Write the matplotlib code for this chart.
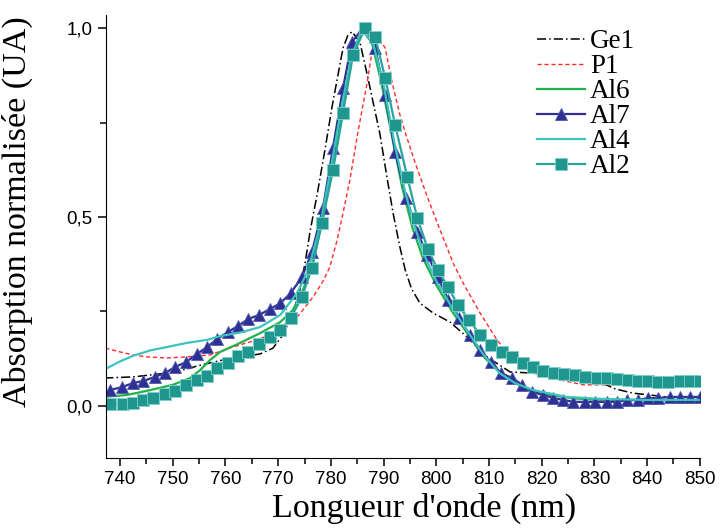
import numpy as np
import matplotlib.pyplot as plt
from matplotlib.ticker import MultipleLocator, FuncFormatter

# Ge1 (dash-dot black)
ge1_x = [737.0, 742.5, 748.9, 752.7, 755.2, 759.6, 764.1, 766.6, 769.0, 770.9, 772.8, 774.0, 775.1, 776.1,
         777.4, 778.9, 780.2, 781.2, 782.3, 783.2, 784.0, 785.5, 786.9, 788.0, 789.3, 790.7, 791.8, 793.1,
         794.1, 795.3, 796.9, 799.4, 802.6, 805.8, 809.6, 814.0, 818.4, 824.8, 828.0, 831.1, 834.0, 837.3,
         843.8, 850.0]
ge1_y = [0.074, 0.077, 0.087, 0.098, 0.108, 0.122, 0.132, 0.138, 0.153, 0.188, 0.246, 0.300, 0.378, 0.466,
         0.560, 0.680, 0.790, 0.865, 0.947, 0.980, 0.990, 0.963, 0.876, 0.804, 0.720, 0.600, 0.510, 0.420,
         0.360, 0.310, 0.272, 0.246, 0.222, 0.183, 0.130, 0.090, 0.087, 0.082, 0.075, 0.063, 0.045, 0.034,
         0.024, 0.024]

# P1 (dashed red)
p1_x = [737.2, 740.0, 742.5, 745.0, 748.9, 752.7, 757.0, 761.4, 766.0, 769.8, 773.6, 776.6, 778.5, 779.8,
        781.2, 782.3, 783.6, 785.2, 786.9, 788.0, 789.0, 790.3, 791.6, 793.1, 794.3, 796.0, 798.3, 800.7,
        803.2, 805.1, 808.3, 811.5, 814.6, 818.4, 823.5, 827.9, 834.3, 840.6, 850.0]
p1_y = [0.153, 0.143, 0.135, 0.130, 0.127, 0.130, 0.135, 0.156, 0.175, 0.196, 0.235, 0.288, 0.330, 0.368,
        0.440, 0.510, 0.598, 0.730, 0.857, 0.955, 0.976, 0.947, 0.857, 0.770, 0.715, 0.643, 0.553, 0.466,
        0.378, 0.325, 0.246, 0.175, 0.122, 0.087, 0.069, 0.056, 0.056, 0.050, 0.056]

# Al6 (green line)
al6_x = [736.8, 741.3, 745.7, 750.0, 753.3, 755.2, 757.1, 759.0, 762.8, 766.6, 770.4, 772.8, 774.7, 776.6,
         778.5, 780.4, 782.3, 784.2, 786.0, 787.8, 789.5, 791.5, 793.5, 795.5, 797.5, 800.0, 803.0, 806.0,
         809.0, 812.0, 815.0, 818.0, 822.0, 826.0, 830.0, 840.0, 850.0]
al6_y = [0.024, 0.029, 0.042, 0.056, 0.074, 0.095, 0.122, 0.143, 0.167, 0.193, 0.222, 0.254, 0.307, 0.378,
         0.500, 0.650, 0.800, 0.940, 0.995, 0.960, 0.860, 0.720, 0.580, 0.470, 0.390, 0.320, 0.250, 0.190,
         0.130, 0.090, 0.060, 0.040, 0.028, 0.020, 0.017, 0.015, 0.016]

# Al7 (triangles, navy)
al7_x = [738.0, 740.4, 742.5, 744.4, 746.6, 748.5, 750.4, 752.5, 754.6, 756.5, 758.4, 760.5, 762.4, 764.3,
         766.4, 768.5, 770.4, 772.4, 774.5, 776.4, 778.5, 780.4, 782.3, 784.0, 786.1, 788.4, 790.3, 792.2,
         794.3, 796.4, 798.3, 800.3, 802.3, 804.4, 806.3, 808.3, 810.3, 812.3, 814.4, 816.3, 818.2, 820.3,
         822.2, 824.1, 826.0, 828.2, 830.1, 832.4, 834.3, 836.2, 838.3, 840.2, 842.1, 844.4, 846.3, 848.2, 850.0]
al7_y = [0.042, 0.050, 0.061, 0.066, 0.077, 0.087, 0.103, 0.116, 0.138, 0.156, 0.177, 0.196, 0.212, 0.230,
         0.241, 0.257, 0.272, 0.299, 0.341, 0.407, 0.524, 0.683, 0.841, 0.963, 1.000, 0.947, 0.823, 0.672,
         0.550, 0.460, 0.400, 0.341, 0.280, 0.233, 0.188, 0.148, 0.116, 0.087, 0.074, 0.056, 0.037, 0.029,
         0.021, 0.016, 0.011, 0.011, 0.011, 0.011, 0.011, 0.016, 0.016, 0.021, 0.021, 0.024, 0.024, 0.024, 0.024]

# Al4 (cyan line)
al4_x = [736.8, 740.0, 742.5, 745.7, 748.9, 752.7, 756.5, 759.0, 763.0, 766.6, 770.4, 773.6, 775.7, 778.0,
         780.0, 782.0, 784.0, 786.0, 788.0, 790.0, 792.0, 794.0, 796.0, 798.0, 800.0, 803.0, 805.8, 809.0,
         812.0, 815.0, 818.4, 824.8, 831.0, 840.0, 850.0]
al4_y = [0.095, 0.118, 0.133, 0.147, 0.156, 0.167, 0.175, 0.185, 0.195, 0.209, 0.241, 0.299, 0.360, 0.480,
         0.630, 0.790, 0.930, 0.995, 0.960, 0.850, 0.700, 0.570, 0.470, 0.390, 0.330, 0.260, 0.200, 0.135,
         0.087, 0.060, 0.042, 0.024, 0.019, 0.016, 0.016]

# Al2 (squares, teal)
al2_x = [738.1, 740.6, 742.5, 744.4, 746.3, 748.5, 750.4, 752.5, 754.6, 756.5, 758.4, 760.5, 762.4, 764.3,
         766.4, 768.5, 770.4, 772.4, 774.5, 776.4, 778.3, 780.4, 782.3, 784.2, 786.5, 788.4, 790.3, 792.2,
         794.5, 796.4, 798.4, 800.3, 802.2, 804.1, 806.2, 808.3, 810.4, 812.5, 814.4, 816.5, 818.4, 820.3,
         822.4, 824.3, 826.3, 828.2, 830.5, 832.4, 834.3, 836.4, 838.3, 840.2, 842.1, 844.0, 846.3, 848.2, 850.0]
al2_y = [0.006, 0.005, 0.008, 0.017, 0.021, 0.031, 0.040, 0.055, 0.068, 0.080, 0.100, 0.114, 0.132, 0.143,
         0.164, 0.183, 0.201, 0.233, 0.288, 0.365, 0.484, 0.624, 0.775, 0.929, 1.000, 0.976, 0.868, 0.743,
         0.606, 0.497, 0.415, 0.360, 0.315, 0.267, 0.228, 0.188, 0.161, 0.143, 0.130, 0.114, 0.103, 0.093,
         0.087, 0.085, 0.082, 0.077, 0.074, 0.074, 0.071, 0.069, 0.066, 0.066, 0.063, 0.063, 0.066, 0.066, 0.066]

fig = plt.figure(figsize=(7.2, 5.28), dpi=100)
ax = fig.add_axes([0.147, 0.133, 0.825, 0.839])

ax.plot(ge1_x, ge1_y, color='black', lw=1.1, ls=(0, (6, 2, 1, 2)), label='Ge1')
ax.plot(p1_x, p1_y, color='#ff2a2a', lw=1.0, ls=(0, (3, 2)), label='P1')
ax.plot(al6_x, al6_y, color='#22b04b', lw=1.6, label='Al6')
ax.plot(al7_x, al7_y, color='#2e3192', lw=1.6, marker='^', ms=9, mfc='#2e3192', mec='#5058b0', mew=0.6, label='Al7')
ax.plot(al4_x, al4_y, color='#3cc3c0', lw=1.6, label='Al4')
ax.plot(al2_x, al2_y, color='#2aa39c', lw=1.6, marker='s', ms=8, mfc='#1f968e', mec='#7fd0cc', mew=0.6, label='Al2')

ax.set_xlim(737.3, 850)
ax.set_ylim(-0.137, 1.035)
ax.spines['top'].set_visible(False)
ax.spines['right'].set_visible(False)
ax.xaxis.set_major_locator(MultipleLocator(10))
ax.xaxis.set_minor_locator(MultipleLocator(5))
ax.yaxis.set_major_locator(MultipleLocator(0.5))
ax.yaxis.set_minor_locator(MultipleLocator(0.25))
ax.yaxis.set_major_formatter(FuncFormatter(lambda v, p: f'{v:.1f}'.replace('.', ',')))
ax.tick_params(which='major', direction='out', length=6, width=1.1, labelsize=13.5)
ax.tick_params(which='minor', direction='out', length=4, width=1.1)
for lab in ax.get_xticklabels() + ax.get_yticklabels():
    lab.set_family('Liberation Sans')

ax.set_xlabel("Longueur d'onde (nm)", family='Liberation Serif', fontsize=24.5)
ax.set_ylabel('Absorption normalisée (UA)', family='Liberation Serif', fontsize=24.5)
ax.xaxis.set_label_coords(0.535, -0.08)
ax.yaxis.set_label_coords(-0.122, 0.555)

ax.legend(loc='upper left', bbox_to_anchor=(0.746, 0.945), bbox_transform=fig.transFigure,
          frameon=False, prop={'family': 'Liberation Serif', 'size': 19.5},
          labelspacing=0.0, handlelength=1.75, handletextpad=0.2, borderpad=0, borderaxespad=0)

fig.savefig('out.png', dpi=100)
